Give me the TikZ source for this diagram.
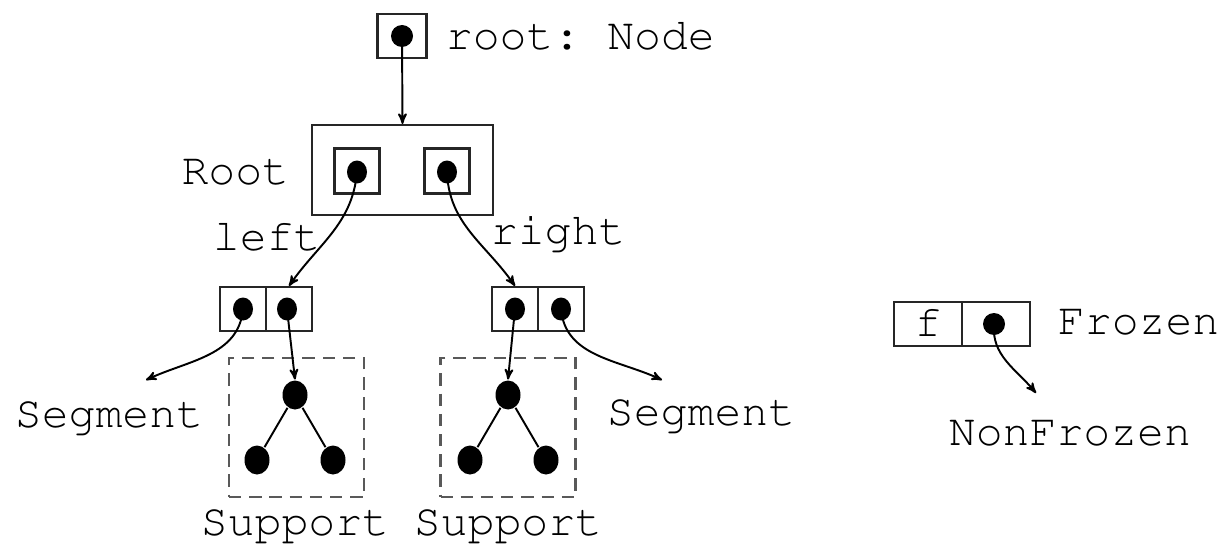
\documentclass[tikz,border=0pt]{standalone}
\usepackage[T1]{fontenc}
\usepackage{courier}
\usetikzlibrary{arrows,shapes,positioning,calc}
\frenchspacing
\tikzset{
    cell/.style={
        rectangle,
        line width=1.2pt,
        draw=black!85,
        minimum width=0.92cm,
        minimum height=0.88cm,
        inner sep=0pt,
    },
    ptr/.style={
        ellipse,
        fill=black,
        minimum width=4mm,
        minimum height=4.6mm,
        inner sep=0pt,
    },
    knot/.style={
        ellipse,
        fill=black,
        minimum width=5mm,
        minimum height=5.8mm,
        inner sep=0pt,
    },
    supbox/.style={
        rectangle,
        line width=1.2pt,
        draw=black!65,
        dash pattern=on 7pt off 4.5pt,
        minimum width=2.7cm,
        minimum height=2.78cm,
    },
    lbl/.style={
        inner sep=0pt,
        font=\ttfamily\fontsize{25.5}{30}\selectfont,
    },
}

\begin{document}
\begin{tikzpicture}[x=0.02cm,y=-0.02cm,>=stealth',line width=1.1pt]
    \useasboundingbox (0,0) rectangle (1222,547);
    % root pointer
    \node [cell,minimum width=0.98cm] (rootcell) at (402,36) {};
    \node [ptr,minimum width=4.4mm,minimum height=4.4mm] (rootdot) at (402,36) {};
    \node [lbl,anchor=base west] (rootlbl) at (445,50) {root: Node};
    % Root node
    \node [cell,minimum width=3.62cm,minimum height=1.8cm] (rootbox) at (402.5,170) {};
    \node [cell,minimum width=0.9cm,minimum height=0.9cm] (lcell) at (357,171) {};
    \node [cell,minimum width=0.9cm,minimum height=0.9cm] (rcell) at (447,171) {};
    \node [ptr] (ldot) at (357,172) {};
    \node [ptr] (rdot) at (447,172) {};
    \node [lbl,anchor=base east] (rootname) at (290,184) {Root};
    \node [lbl,anchor=base west] (leftlbl) at (212,250) {left};
    \node [lbl,anchor=base west] (rightlbl) at (490,244) {right};
    % children
    \node [cell] (lpA) at (243,309) {};
    \node [cell] (lpB) at (289,309) {};
    \node [cell] (rpA) at (515,309) {};
    \node [cell] (rpB) at (561,309) {};
    \node [ptr] (lpAdot) at (243,309) {};
    \node [ptr] (lpBdot) at (287,309) {};
    \node [ptr] (rpAdot) at (515,309) {};
    \node [ptr] (rpBdot) at (561,309) {};
    % supports
    \node [supbox] (supL) at (296.5,427.5) {};
    \node [supbox] (supR) at (508,427.5) {};
    \node [knot] (slt) at (295,395) {};
    \node [knot] (sla) at (257,460) {};
    \node [knot] (slb) at (333,460) {};
    \node [knot] (srt) at (508,395) {};
    \node [knot] (sra) at (470,460) {};
    \node [knot] (srb) at (546,460) {};
    \draw (slt) -- (sla) (slt) -- (slb);
    \draw (srt) -- (sra) (srt) -- (srb);
    \node [lbl,anchor=base] (supLlbl) at (295,535) {Support};
    \node [lbl,anchor=base] (supRlbl) at (508,535) {Support};
    \node [lbl,anchor=base west] (segL) at (14,427) {Segment};
    \node [lbl,anchor=base west] (segR) at (606,425) {Segment};
    \coordinate (segLend) at (146,380);
    \coordinate (segRend) at (662,380);
    % frozen
    \node [cell,minimum width=1.36cm] (fcell) at (928,324) {};
    \node [cell,minimum width=1.36cm] (dcell) at (996,324) {};
    \node [ptr,minimum width=4.4mm,minimum height=4.4mm] (fdot) at (994,324) {};
    \node [lbl,anchor=base] (flbl) at (928,336) {f};
    \node [lbl,anchor=base west] (frozen) at (1057,334) {Frozen};
    \node [lbl,anchor=base west] (nonfrozen) at (948,445) {NonFrozen};
    \coordinate (nfend) at (1036,393);
    % pointers
    \path[->] (rootdot.center) edge (rootbox.north);
    \path[->] (ldot.center) edge [out=-95,in=55] (lpB.north);
    \path[->] (rdot.center) edge [out=-88,in=125] (rpA.north);
    \path[->] (lpAdot.center) edge [out=-95,in=25] (segLend);
    \path[->] (rpBdot.center) edge [out=-85,in=155] (segRend);
    \path[->] (lpBdot.center) edge (slt.north);
    \path[->] (rpAdot.center) edge (srt.north);
    \path[->] (fdot.center) edge [out=-95,in=130] (nfend);
\end{tikzpicture}
\end{document}
